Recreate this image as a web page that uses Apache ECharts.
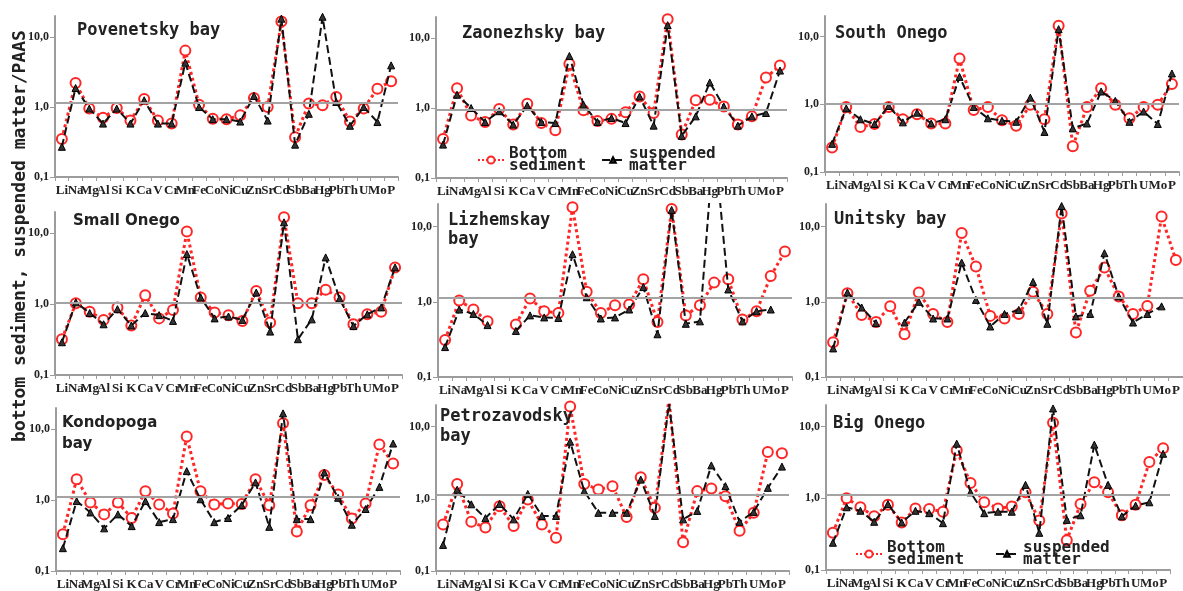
<!DOCTYPE html>
<html>
<head>
<meta charset="utf-8">
<script src="https://cdn.jsdelivr.net/npm/echarts@6/dist/echarts.min.js"></script>
<style>
html,body{margin:0;padding:0;background:#fff;}
#chart{width:1183px;height:591px;}
</style>
</head>
<body>
<div id="chart"></div>
<script>
var categories = ['Li','Na','Mg','Al','Si','K','Ca','V','Cr','Mn','Fe','Co','Ni','Cu','Zn','Sr','Cd','Sb','Ba','Hg','Pb','Th','U','Mo','P'];
var yTickLabels = ['0,1','1,0','10,0'];

var panelNames = ['Povenetsky bay','Zaonezhsky bay','South Onego','Small Onego','Lizhemskay\nbay','Unitsky bay','Kondopoga\nbay','Petrozavodsky\nbay','Big Onego'];
var refLine = [1.14, 0.95, 1.02, 1.06, 1.15, 1.14, 1.11, 1.15, 1.11];

var povenetskyBottom = [0.35,2.2,0.95,0.70,0.97,0.64,1.3,0.64,0.58,6.4,1.08,0.68,0.67,0.76,1.35,1.0,16.7,0.37,1.12,1.06,1.39,0.62,0.95,1.83,2.33];
var povenetskySusp   = [0.27,1.87,0.95,0.58,0.95,0.58,1.25,0.58,0.58,4.3,1.0,0.67,0.67,0.62,1.44,0.64,18.3,0.29,0.80,19.5,1.18,0.54,1.0,0.61,3.94];

var zaonezhskyBottom = [0.36,1.92,0.78,0.63,0.97,0.58,1.15,0.61,0.48,4.27,0.93,0.65,0.70,0.87,1.46,0.85,18.6,0.42,1.29,1.31,1.05,0.58,0.76,2.73,4.04];
var zaonezhskySusp   = [0.30,1.55,1.0,0.63,0.90,0.58,1.08,0.63,0.61,5.55,1.12,0.63,0.72,0.61,1.46,0.56,15.3,0.40,0.76,2.32,1.05,0.56,0.76,0.85,3.43];

var southOnegoBottom = [0.23,0.91,0.46,0.51,0.91,0.60,0.71,0.52,0.52,4.73,0.82,0.91,0.58,0.48,0.98,0.60,14.4,0.24,0.91,1.72,0.98,0.62,0.91,0.98,1.98];
var southOnegoSusp   = [0.26,0.87,0.60,0.51,0.94,0.54,0.75,0.52,0.60,2.53,0.91,0.62,0.57,0.55,1.25,0.39,12.8,0.44,0.52,1.54,1.12,0.55,0.78,0.51,2.84];

var smallOnegoBottom = [0.32,1.03,0.78,0.60,0.90,0.50,1.34,0.63,0.83,10.6,1.24,0.76,0.70,0.58,1.54,0.55,16.8,1.03,1.03,1.6,1.24,0.52,0.72,0.78,3.3];
var smallOnegoSusp   = [0.29,1.06,0.75,0.52,0.85,0.50,0.75,0.70,0.58,5.1,1.24,0.63,0.67,0.60,1.46,0.41,14.3,0.32,0.61,4.57,1.2,0.49,0.72,0.9,3.3];

var lizhemskayBottom = [0.31,1.04,0.79,0.55,null,0.50,1.11,0.75,0.71,18.1,1.36,0.71,0.90,0.92,1.99,0.54,17.2,0.66,0.90,1.80,1.99,0.58,0.75,2.2,4.67];
var lizhemskaySusp   = [0.25,0.79,0.69,0.49,null,0.41,0.66,0.62,0.61,4.3,1.15,0.60,0.62,0.79,1.57,0.37,16.7,0.51,0.55,150,1.46,0.55,0.75,0.79,null];

var unitskyBottom = [0.29,1.30,0.67,0.54,0.87,0.37,1.33,0.69,0.54,8.2,2.94,0.65,0.60,0.69,1.36,0.69,15.0,0.39,1.40,2.85,1.18,0.69,0.88,13.6,3.61];
var unitskySusp   = [0.24,1.33,0.84,0.52,null,0.53,1.0,0.60,0.60,3.33,1.06,0.47,0.69,0.78,1.84,0.51,18.8,0.64,0.69,4.43,1.18,0.53,0.69,0.87,null];

var kondopogaBottom = [0.33,1.98,0.93,0.63,0.93,0.56,1.34,0.87,0.65,7.9,1.34,0.87,0.90,0.88,1.98,0.85,12.2,0.36,0.85,2.26,1.2,0.55,0.90,6.1,3.3];
var kondopogaSusp   = [0.21,0.97,0.67,0.40,0.63,0.43,0.97,0.49,0.54,2.57,1.03,0.49,0.56,0.85,1.78,0.42,16.8,0.54,0.54,2.46,1.08,0.45,0.75,1.54,6.3];

var petrozavodskyBottom = [0.44,1.61,0.48,0.40,0.79,0.42,0.98,0.44,0.29,19.0,1.61,1.35,1.50,0.56,1.99,0.75,24,0.25,1.28,1.39,1.09,0.36,0.64,4.45,4.3];
var petrozavodskySusp   = [0.23,1.34,0.84,0.54,0.85,0.52,1.17,0.58,0.58,6.2,1.28,0.64,0.64,0.64,1.85,0.58,21,0.52,0.68,2.91,1.5,0.48,0.66,1.42,2.8];

var bigOnegoBottom = [0.33,1.0,0.75,0.56,0.81,0.46,0.72,0.71,0.65,4.66,1.64,0.88,0.72,0.77,1.21,0.49,11.3,0.26,0.83,1.68,1.21,0.58,0.81,3.2,5.0];
var bigOnegoSusp   = [0.24,0.75,0.67,0.47,0.83,0.46,0.67,0.62,0.45,5.78,1.21,0.62,0.65,0.65,1.54,0.33,17.9,0.50,0.58,5.6,1.54,0.56,0.79,0.88,4.18];

var bottomSets = [povenetskyBottom, zaonezhskyBottom, southOnegoBottom, smallOnegoBottom, lizhemskayBottom, unitskyBottom, kondopogaBottom, petrozavodskyBottom, bigOnegoBottom];
var suspSets = [povenetskySusp, zaonezhskySusp, southOnegoSusp, smallOnegoSusp, lizhemskaySusp, unitskySusp, kondopogaSusp, petrozavodskySusp, bigOnegoSusp];

// layout (pixels)
var gridBoxes = [
  [55, 16, 343, 161], [436, 17, 351, 161], [825, 16, 354, 156],
  [55, 212, 347, 163], [438, 204, 354, 173], [826, 204, 359, 173],
  [56, 408, 344, 163], [436, 405, 353, 167], [826, 405, 344, 165]
];
var titleBoxes = [
  [77, 21, 'm', 19], [462, 24, 'm', 19], [835, 24, 'm', 19],
  [73, 212, 's', 19], [448, 211, 'm', 19], [834, 210, 'm', 19],
  [62, 413, 's', 21], [440, 407, 'm', 20], [833, 414, 'm', 19]
];

var RED = '#ff2626';
var AXIS = '#9c9c9c';
var grids = [], xAxes = [], yAxes = [], series = [], titles = [];

function yFmt(v) {
  var e = Math.log(v) / Math.LN10;
  var r = Math.round(e);
  if (Math.abs(e - r) > 0.01 || r < -1 || r > 1) return '';
  return yTickLabels[r + 1];
}

for (var i = 0; i < 9; i++) {
  var b = gridBoxes[i];
  grids.push({left: b[0], top: b[1], width: b[2], height: b[3], containLabel: false});
  xAxes.push({
    type: 'category', gridIndex: i, data: categories, boundaryGap: true,
    axisLine: {onZero: false, lineStyle: {color: AXIS, width: 2}},
    axisTick: {show: true, length: 4, lineStyle: {color: AXIS, width: 1}},
    axisLabel: {interval: 0, margin: 7, fontFamily: 'Liberation Serif', fontWeight: 'bold', fontSize: 13, color: '#222'},
    splitLine: {show: false}
  });
  yAxes.push({
    type: 'log', logBase: 10, min: 0.1, max: 20, gridIndex: i,
    axisLine: {show: true, lineStyle: {color: AXIS, width: 2}},
    axisTick: {show: true, length: 5, lineStyle: {color: AXIS, width: 1}},
    splitLine: {show: false}, minorTick: {show: false},
    axisLabel: {formatter: yFmt, margin: 6, fontFamily: 'Liberation Serif', fontWeight: 'bold', fontSize: 12, color: '#222', showMaxLabel: false}
  });
  series.push({
    type: 'line', name: 'Bottom sediment', xAxisIndex: i, yAxisIndex: i,
    data: bottomSets[i], symbol: 'circle', symbolSize: 10, clip: true,
    lineStyle: {color: RED, width: 3, type: 'dotted'},
    itemStyle: {color: '#ffffff', borderColor: RED, borderWidth: 2},
    z: 2
  });
  series.push({
    type: 'line', name: 'suspended matter', xAxisIndex: i, yAxisIndex: i,
    data: suspSets[i], symbol: 'triangle', symbolSize: 7, clip: true,
    lineStyle: {color: '#111', width: 2, type: 'dashed'},
    itemStyle: {color: '#333', borderColor: '#000', borderWidth: 1},
    z: 3,
    markLine: {
      silent: true, symbol: 'none', label: {show: false}, animation: false,
      lineStyle: {color: '#a3a3a3', width: 2, type: 'solid'},
      data: [{yAxis: refLine[i]}]
    }
  });
  var t = titleBoxes[i];
  titles.push({
    text: panelNames[i], left: t[0], top: t[1], padding: 0,
    textStyle: {
      fontFamily: t[2] === 'm' ? 'DejaVu Sans Mono' : 'DejaVu Sans',
      fontWeight: 'bold', fontSize: t[2] === 'm' ? 17 : 15, lineHeight: t[3], color: '#222'
    }
  });
}

var legendText = {fontFamily: 'DejaVu Sans Mono', fontWeight: 'bold', fontSize: 16, lineHeight: 12, color: '#222'};
function legendFmt(name) {
  return name === 'Bottom sediment' ? 'Bottom\nsediment' : 'suspended\nmatter';
}
var legends = [
  {data: ['Bottom sediment'], left: 477, top: 146},
  {data: ['suspended matter'], left: 601, top: 146},
  {data: ['Bottom sediment'], left: 855, top: 540},
  {data: ['suspended matter'], left: 995, top: 540}
].map(function (l) {
  l.orient = 'horizontal'; l.padding = 0; l.itemGap = 0;
  l.itemWidth = 26; l.itemHeight = 9; l.textStyle = legendText; l.formatter = legendFmt;
  l.selectedMode = false;
  return l;
});
legends[1].itemWidth = 22; legends[1].itemHeight = 7;
legends[3].itemWidth = 22; legends[3].itemHeight = 7;

var chart = echarts.init(document.getElementById('chart'), null, {renderer: 'canvas'});
chart.setOption({
  backgroundColor: '#ffffff',
  animation: false,
  title: titles,
  legend: legends,
  grid: grids,
  xAxis: xAxes,
  yAxis: yAxes,
  series: series,
  graphic: [{
    type: 'text', x: 20, y: 236, rotation: Math.PI / 2, z: 100,
    style: {
      text: 'bottom sediment, suspended matter/PAAS',
      font: 'bold 18px "DejaVu Sans Mono"', fill: '#222',
      align: 'center', verticalAlign: 'middle'
    }
  }]
});
</script>
</body>
</html>
